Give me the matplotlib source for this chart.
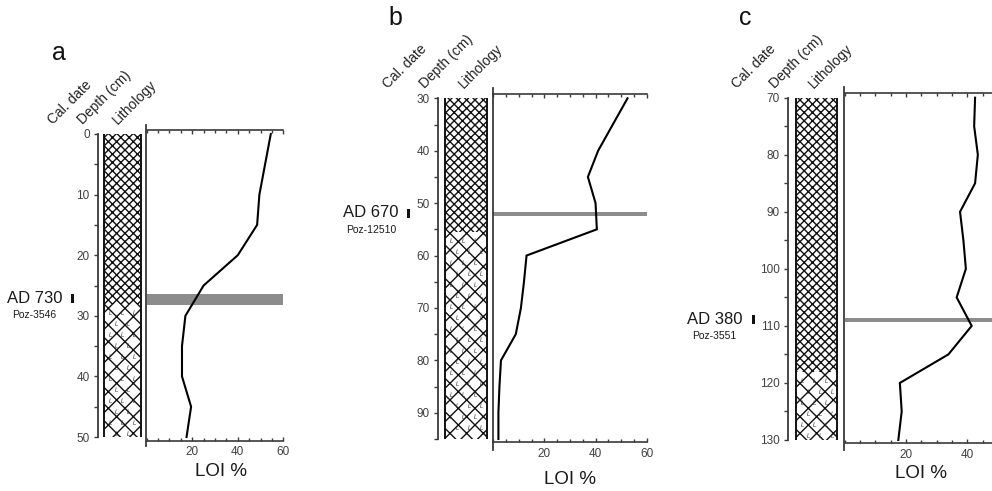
import numpy as np
import matplotlib
matplotlib.use('Agg')
import matplotlib.pyplot as plt
from matplotlib.patches import Rectangle
from matplotlib.lines import Line2D
from matplotlib.ticker import MultipleLocator, FixedLocator

plt.rcParams['font.family'] = ['Liberation Sans', 'DejaVu Sans']
plt.rcParams['hatch.linewidth'] = 1.0

# ---------------- data ----------------
panel_letters = ['a', 'b', 'c']
header_labels = ['Cal. date', 'Depth (cm)', 'Lithology']
loi_ticks = [20, 40, 60]

depth_a = [0, 10, 15, 20, 25, 30, 35, 40, 45, 50]
loi_a = [54.5, 49.5, 48.5, 40, 25, 17, 15.5, 15.5, 19.5, 17.5]

depth_b = [30, 40, 45, 50, 55, 60, 65, 70, 75, 80, 85, 90, 95]
loi_b = [52.5, 41, 37, 40, 40.5, 13, 12, 10.8, 8.8, 3, 2.4, 2, 2]

depth_c = [70, 75, 80, 85, 90, 95, 100, 105, 110, 115, 120, 125, 130]
loi_c = [42.5, 42.2, 43.4, 42.5, 37.6, 38.7, 39.5, 36.5, 41.4, 33.8, 18, 18.6, 17.5]

depth_range = [(0, 50), (30, 95), (70, 130)]
fine_litho_end = [28, 55.5, 118]            # fine crosshatch above, coarse below
date_band = [(26.4, 28.2), (51.7, 52.4), (108.6, 109.4)]
date_label = ['AD 730', 'AD 670', 'AD 380']
lab_code = ['Poz-3546', 'Poz-12510', 'Poz-3551']

depths = [depth_a, depth_b, depth_c]
lois = [loi_a, loi_b, loi_c]

# ---------------- layout (pixels) ----------------
W, H = 992, 491
fig = plt.figure(figsize=(W / 100, H / 100), dpi=100)


def fx(x):
    return x / W


def fy(y):
    return 1 - y / H


def rect(x0, y0, x1, y1):
    return [x0 / W, 1 - y1 / H, (x1 - x0) / W, (y1 - y0) / H]


layout = [
    dict(axis_x=98, col=(104, 141), top=134, bot=437,
         loi_x=(146.7, 283.3), loi_top=130, loi_bot=440.7, spine=(125, 446),
         letter=(59, 60), date_x=34.5, bar_x=72.7, loi_lab=(221, 472),
         head_dx=(-45, -15, 20)),
    dict(axis_x=438.3, col=(445, 486.7), top=98.3, bot=439,
         loi_x=(493.3, 646.7), loi_top=94.3, loi_bot=442.3, spine=(88, 450),
         letter=(395, 25), date_x=371, bar_x=408.3, loi_lab=(570, 480),
         head_dx=(-50, -13, 25)),
    dict(axis_x=788.3, col=(796, 837.3), top=97.7, bot=440,
         loi_x=(844.6, 1028.8), loi_top=93.3, loi_bot=443.3, spine=(87, 450),
         letter=(745, 25), date_x=714.5, bar_x=753.3, loi_lab=(921, 473),
         head_dx=(-51, -13, 25)),
]

spine_col = '#3a3a3a'
tick_col = '#404040'

for i, L in enumerate(layout):
    d0, d1 = depth_range[i]
    scale = (L['bot'] - L['top']) / (d1 - d0)

    # ---- depth axis + lithology column ----
    width = L['col'][1] - L['axis_x']
    axd = fig.add_axes(rect(L['axis_x'], L['top'], L['col'][1], L['bot']))
    axd.set_xlim(0, width)
    axd.set_ylim(d1, d0)
    for s in ['top', 'right', 'bottom']:
        axd.spines[s].set_visible(False)
    axd.spines['left'].set_color(spine_col)
    axd.spines['left'].set_linewidth(1.3)
    axd.set_xticks([])
    axd.yaxis.set_major_locator(MultipleLocator(10))
    axd.yaxis.set_minor_locator(MultipleLocator(5))
    axd.tick_params(axis='y', which='both', direction='out', length=3,
                    width=1, color=spine_col, labelsize=8.5,
                    labelcolor=tick_col, pad=3)
    axd.patch.set_alpha(0)

    cx0 = L['col'][0] - L['axis_x']
    cw = L['col'][1] - L['col'][0]
    fe = fine_litho_end[i]
    axd.add_patch(Rectangle((cx0, d0), cw, fe - d0, fill=False,
                            hatch='xxxx', edgecolor='#111111', lw=0))
    axd.add_patch(Rectangle((cx0, fe), cw, d1 - fe, fill=False,
                            hatch='xx', edgecolor='#111111', lw=0))
    for xe in (cx0, cx0 + cw):
        axd.plot([xe, xe], [d0, d1], color='#111111', lw=1.4,
                 solid_capstyle='butt', clip_on=False)
    # small "L" symbols in the coarse unit
    gx = np.arange(cx0 + 6, cx0 + cw - 3, 12)
    gy = np.arange(fe + 8 / scale, d1 - 3 / scale, 11 / scale)
    GX, GY = np.meshgrid(gx, gy)
    GX = GX + (np.arange(len(gy))[:, None] % 2) * 6
    m = GX < cx0 + cw - 3
    axd.scatter(GX[m], GY[m], marker='$L$', s=10, color='#333333',
                linewidths=0, zorder=3)

    # ---- LOI axes ----
    y_top = d0 + (L['loi_top'] - L['top']) / scale
    y_bot = d0 + (L['loi_bot'] - L['top']) / scale
    axl = fig.add_axes(rect(L['loi_x'][0], L['loi_top'], L['loi_x'][1], L['loi_bot']))
    axl.set_xlim(0, 60)
    axl.set_ylim(y_bot, y_top)
    axl.patch.set_alpha(0)
    for s in ['left', 'right']:
        axl.spines[s].set_visible(False)
    for s in ['top', 'bottom']:
        axl.spines[s].set_color(spine_col)
        axl.spines[s].set_linewidth(1.2)
    axl.set_yticks([])
    px_per = (L['loi_x'][1] - L['loi_x'][0]) / 60
    shown = [t for t in loi_ticks if L['loi_x'][0] + t * px_per < W - 12]
    axl.xaxis.set_major_locator(FixedLocator(loi_ticks))
    axl.set_xticklabels([str(t) if t in shown else '' for t in loi_ticks])
    axl.xaxis.set_minor_locator(MultipleLocator(5))
    axl.tick_params(axis='x', which='both', direction='in', top=True,
                    bottom=True, labeltop=False, color=spine_col, width=1,
                    labelsize=8.5, labelcolor=tick_col, pad=4)
    axl.tick_params(axis='x', which='major', length=3)
    axl.tick_params(axis='x', which='minor', length=2)

    lo, hi = date_band[i]
    axl.axhspan(lo, hi, color='#8c8c8c', lw=0, zorder=1)
    axl.plot(lois[i], depths[i], color='black', lw=1.5, zorder=3,
             solid_joinstyle='miter')

    # left spine of LOI plot (slightly overhanging)
    fig.add_artist(Line2D([fx(L['loi_x'][0] - 0.5)] * 2,
                          [fy(L['spine'][0]), fy(L['spine'][1])],
                          color=spine_col, lw=1.3))

    # ---- texts ----
    fig.text(fx(L['letter'][0]), fy(L['letter'][1]), panel_letters[i],
             fontsize=18, ha='center', va='baseline', color='#111111')
    for lab, dx in zip(header_labels, L['head_dx']):
        fig.text(fx(L['axis_x'] + dx), fy(L['top'] - 9), lab, fontsize=10,
                 rotation=45, rotation_mode='anchor', ha='left',
                 va='baseline', color='#222222')
    yc = L['top'] + ((lo + hi) / 2 - d0) * scale
    fig.text(fx(L['date_x']), fy(yc - 1), date_label[i], fontsize=12,
             ha='center', va='center', color='#1a1a1a')
    fig.text(fx(L['date_x']), fy(yc + 16), lab_code[i], fontsize=7.5,
             ha='center', va='center', color='#1a1a1a')
    fig.add_artist(Rectangle((fx(L['bar_x'] - 1.6), fy(yc + 4)),
                             3.2 / W, 9 / H, transform=fig.transFigure,
                             color='#111111', lw=0))
    fig.text(fx(L['loi_lab'][0]), fy(L['loi_lab'][1]), 'LOI %', fontsize=13.5,
             ha='center', va='center', color='#1a1a1a')

fig.savefig('out.png', dpi=100)
